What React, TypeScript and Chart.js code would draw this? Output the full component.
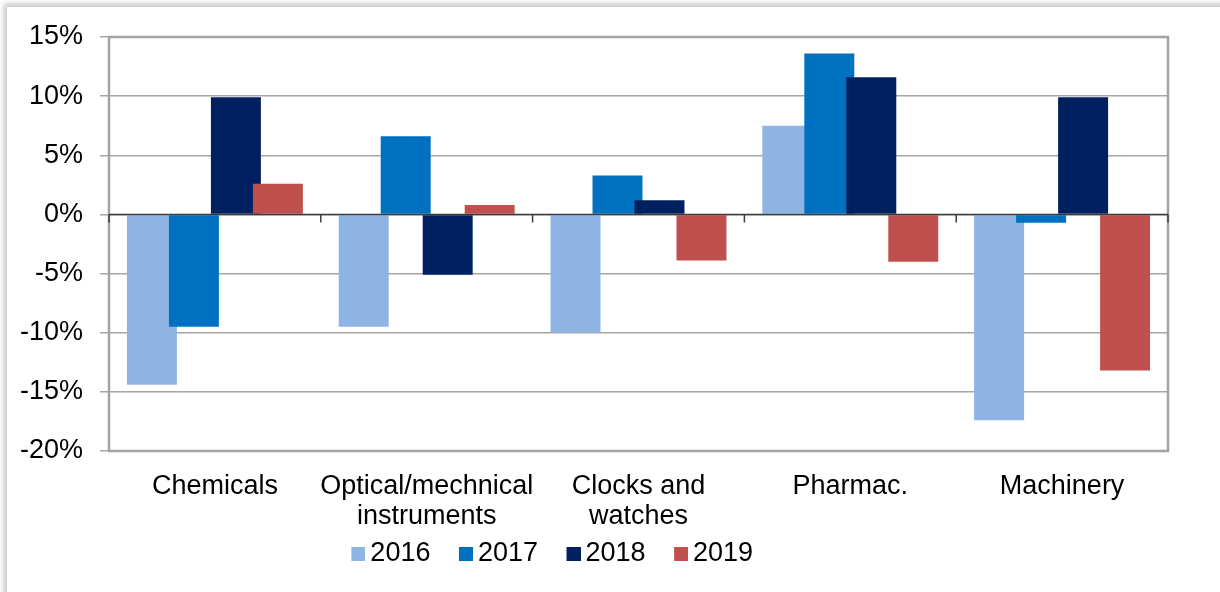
import React, { useEffect, useRef } from 'react';
import { Chart, registerables } from 'chart.js';

Chart.register(...registerables);

const categories: (string | string[])[] = [
  'Chemicals',
  ['Optical/mechnical', 'instruments'],
  ['Clocks and', 'watches'],
  'Pharmac.',
  'Machinery',
];
const seriesLabels = ['2016', '2017', '2018', '2019'];
const values2016 = [-14.4, -9.5, -10.0, 7.5, -17.4];
const values2017 = [-9.5, 6.6, 3.3, 13.6, -0.7];
const values2018 = [9.9, -5.1, 1.2, 11.6, 9.9];
const values2019 = [2.6, 0.8, -3.9, -4.0, -13.2];
const seriesColors = ['#8EB4E3', '#0070C0', '#002060', '#C0504D'];
const yMin = -20;
const yMax = 15;
const yStep = 5;

const FONT = "'Liberation Sans', Arial, sans-serif";
const FONT_SIZE = 27;
const SWATCH_W = 30; // legend box slot width

function legendSwatch(color: string): HTMLCanvasElement {
  const c = document.createElement('canvas');
  c.width = SWATCH_W + 17;
  c.height = 14;
  const g = c.getContext('2d')!;
  g.fillStyle = color;
  g.fillRect(c.width - 14, 0, 14, 14);
  return c;
}

const orderedDrawPlugin = {
  id: 'orderedDraw',
  beforeDatasetsDraw(chart: any) {
    const ctx = chart.ctx;
    const a = chart.chartArea;
    ctx.save();
    ctx.beginPath();
    ctx.rect(a.left, a.top, a.right - a.left, a.bottom - a.top);
    ctx.clip();
    for (let i = 0; i < chart.data.datasets.length; i++) {
      const meta = chart.getDatasetMeta(i);
      if (meta.visible !== false) meta.controller.draw();
    }
    ctx.restore();
    return false;
  },
};

const framePlugin = {
  id: 'frame',
  afterLayout(chart: any) {
    if (chart.legend) {
      chart.legend.left -= 44;
      chart.legend.right -= 44;
    }
  },
  afterDraw(chart: any) {
    const ctx = chart.ctx;
    const a = chart.chartArea;
    const xs = chart.scales.x;
    const ys = chart.scales.y;
    ctx.save();
    ctx.strokeStyle = '#a3a3a3';
    ctx.lineWidth = 2.5;
    ctx.strokeRect(a.left, a.top, a.right - a.left, a.bottom - a.top);
    const y0 = ys.getPixelForValue(0);
    ctx.strokeStyle = '#3c3c3c';
    ctx.lineWidth = 1.5;
    ctx.beginPath();
    ctx.moveTo(a.left, y0);
    ctx.lineTo(a.right, y0);
    for (let i = 0; i <= categories.length; i++) {
      const x = xs.getPixelForValue(i - 0.5);
      ctx.moveTo(x, y0);
      ctx.lineTo(x, y0 + 8);
    }
    ctx.stroke();
    ctx.restore();
  },
};

export default function App() {
  const ref = useRef<HTMLCanvasElement>(null);

  useEffect(() => {
    document.body.style.margin = '0';
    const series = [values2016, values2017, values2018, values2019];
    const chart = new Chart(ref.current!, {
      type: 'bar',
      data: {
        labels: categories as any,
        datasets: series.map((vals, i) => ({
          label: seriesLabels[i],
          data: vals,
          backgroundColor: seriesColors[i],
          borderWidth: 0,
          categoryPercentage: 0.793,
          barPercentage: 1.19,
          pointStyle: legendSwatch(seriesColors[i]) as any,
        })),
      },
      options: {
        responsive: false,
        animation: false,
        events: [],
        layout: { padding: { left: 0, right: 52, top: 37, bottom: 15 } },
        plugins: {
          tooltip: { enabled: false },
          title: { display: false },
          legend: {
            display: true,
            position: 'bottom',
            labels: {
              usePointStyle: true,
              pointStyleWidth: SWATCH_W,
              padding: 4,
              color: '#000',
              font: { family: FONT, size: FONT_SIZE },
            },
          },
        },
        scales: {
          x: {
            type: 'category',
            offset: true,
            grid: { display: false, drawTicks: false },
            border: { display: false },
            ticks: {
              color: '#000',
              font: { family: FONT, size: FONT_SIZE, lineHeight: 30 / FONT_SIZE },
              padding: 21,
              maxRotation: 0,
              autoSkip: false,
            },
            afterFit: (s: any) => {
              s.height = 85;
            },
          },
          y: {
            min: yMin,
            max: yMax,
            grid: {
              color: '#a6a6a6',
              lineWidth: 1.5,
              drawTicks: true,
              tickLength: 9,
              tickColor: '#a6a6a6',
            },
            border: { display: false },
            ticks: {
              stepSize: yStep,
              color: '#000',
              font: { family: FONT, size: FONT_SIZE },
              padding: 17,
              callback: (v: any) => `${v}%`,
            },
            afterFit: (s: any) => {
              s.width = 109;
            },
          },
        },
      },
      plugins: [orderedDrawPlugin, framePlugin],
    });
    return () => chart.destroy();
  }, []);

  return (
    <div
      style={{
        position: 'relative',
        width: 1220,
        height: 592,
        overflow: 'hidden',
        background: '#fff',
      }}
    >
      <div
        style={{
          position: 'absolute',
          left: 7,
          top: 7,
          width: 1225,
          height: 640,
          background: '#fff',
          boxShadow: '-3px -3px 6px rgba(0,0,0,0.25)',
        }}
      />
      <canvas
        ref={ref}
        width={1220}
        height={592}
        style={{ position: 'absolute', left: 0, top: 0, display: 'block' }}
      />
    </div>
  );
}
